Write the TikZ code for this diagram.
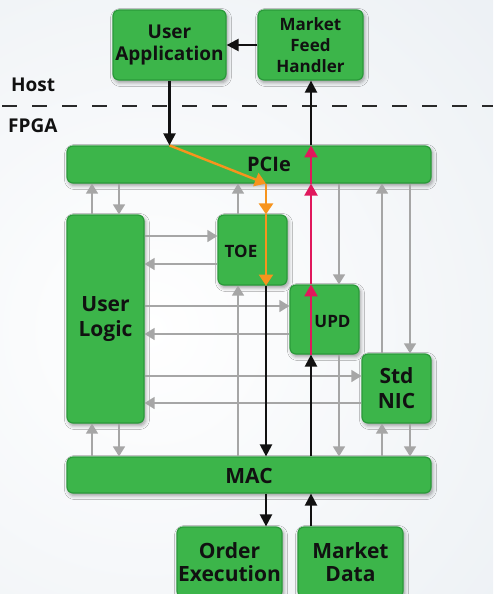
\documentclass[tikz,border=0pt]{standalone}
\usepackage{fontspec}
\setmainfont{Open Sans}
\usetikzlibrary{arrows.meta,shadows.blur}

\definecolor{boxfill}{HTML}{3CB54A}
\definecolor{boxedge}{HTML}{2A9A3A}
\definecolor{ink}{HTML}{111111}
\definecolor{wire}{HTML}{A6A6A6}
\definecolor{txpath}{HTML}{F7941D}
\definecolor{rxpath}{HTML}{E0185C}
\definecolor{bgout}{HTML}{E3E9EF}

\newcommand\boxfont[2]{\fontsize{#1}{#2}\selectfont\bfseries}

\tikzset{
  unit/.style={draw=boxedge, fill=boxfill, line width=1.2pt, rounded corners=6pt,
    inner sep=0pt, align=center, text=ink,
    blur shadow={shadow xshift=1.5pt, shadow yshift=-2.5pt,
      shadow blur radius=4pt, shadow opacity=40}},
  tag/.style={text=ink, inner sep=0pt},
  wirearrow/.style={draw=wire, line width=1.4pt,
    -{Triangle[length=10pt,width=12pt]}, fill=wire},
  mainarrow/.style={draw=ink, line width=2.2pt,
    -{Triangle[length=12pt,width=12pt]}},
  txarrow/.style={draw=txpath, line width=2.4pt,
    -{Triangle[length=11pt,width=14pt]}},
  rxarrow/.style={draw=rxpath, line width=2.2pt,
    -{Triangle[length=12pt,width=13pt]}},
}

\begin{document}
\begin{tikzpicture}[x=1pt, y=-1pt]
  \useasboundingbox (0,0) rectangle (493,594);
  \begin{scope}
    \clip (0,0) rectangle (493,594);
    % soft background
    \shade[inner color=white, outer color=bgout] (150,330) circle (720);

    % host / FPGA boundary
    \draw[ink!90, line width=2pt, dash pattern=on 15pt off 15pt, dash phase=-2pt]
      (0,106) -- (493,106);
    \node[tag, anchor=base west, font=\boxfont{19}{22}] (host) at (11,91) {Host};
    \node[tag, anchor=base west, font=\boxfont{19}{22}] (fpga) at (8,132) {FPGA};

    % blocks
    \node[unit, minimum width=113pt, minimum height=70pt, font=\boxfont{19}{22}]
      (ua) at (169.5,45) {User\\Application};
    \node[unit, minimum width=105pt, minimum height=70pt, font=\boxfont{17}{21}]
      (mfh) at (310.5,45) {Market\\Feed\\Handler};
    \node[unit, minimum width=364pt, minimum height=37pt] (pcie) at (249,164.5) {};
    \node[tag, anchor=base, font=\boxfont{20}{24}] (pcietxt) at (269,171.5) {PCIe};
    \node[unit, minimum width=77pt, minimum height=208pt, font=\boxfont{21}{25}]
      (ul) at (105.5,319) {User\\Logic};
    \node[unit, minimum width=69pt, minimum height=70pt] (toe) at (252.5,250) {};
    \node[tag, anchor=base, font=\boxfont{17}{20}] (toetxt) at (241,257.5) {TOE};
    \node[unit, minimum width=69pt, minimum height=69pt] (upd) at (324.5,319.5) {};
    \node[tag, anchor=base, font=\boxfont{17}{20}] (updtxt) at (332.5,327) {UPD};
    \node[unit, minimum width=69pt, minimum height=69pt, font=\boxfont{21}{25}]
      (nic) at (396.5,388.5) {Std\\NIC};
    \node[unit, minimum width=364pt, minimum height=36pt] (mac) at (249,475) {};
    \node[tag, anchor=base, font=\boxfont{21}{24}] (mactxt) at (249,483) {MAC};
    \node[unit, minimum width=105pt, minimum height=70pt, font=\boxfont{21}{23}]
      (oe) at (229.5,562) {Order\\Execution};
    \node[unit, minimum width=105pt, minimum height=70pt, font=\boxfont{21}{23}]
      (md) at (350.5,562) {Market\\Data};

    % lanes
    \coordinate (x92) at (92,0);
    \coordinate (x119) at (119,0);
    \coordinate (x238) at (238,0);
    \coordinate (x266) at (266,0);
    \coordinate (x311) at (311,0);
    \coordinate (x339) at (339,0);
    \coordinate (x382) at (382,0);
    \coordinate (x410) at (410,0);
    \coordinate (y236) at (0,236);
    \coordinate (y264) at (0,264);
    \coordinate (y306) at (0,306);
    \coordinate (y334) at (0,334);
    \coordinate (y376) at (0,376);
    \coordinate (y403) at (0,403);

    % internal links
    \draw[wirearrow] (ul.north -| x92) -- (pcie.south -| x92);
    \draw[wirearrow] (pcie.south -| x119) -- (ul.north -| x119);
    \draw[wirearrow] (mac.north -| x92) -- (ul.south -| x92);
    \draw[wirearrow] (ul.south -| x119) -- (mac.north -| x119);
    \draw[wirearrow] (toe.north -| x238) -- (pcie.south -| x238);
    \draw[wirearrow] (mac.north -| x238) -- (toe.south -| x238);
    \draw[wirearrow] (pcie.south -| x339) -- (upd.north -| x339);
    \draw[wirearrow] (upd.south -| x339) -- (mac.north -| x339);
    \draw[wirearrow] (nic.north -| x382) -- (pcie.south -| x382);
    \draw[wirearrow] (mac.north -| x382) -- (nic.south -| x382);
    \draw[wirearrow] (pcie.south -| x410) -- (nic.north -| x410);
    \draw[wirearrow] (nic.south -| x410) -- (mac.north -| x410);
    \draw[wirearrow] (ul.east |- y236) -- (toe.west |- y236);
    \draw[wirearrow] (toe.west |- y264) -- (ul.east |- y264);
    \draw[wirearrow] (ul.east |- y306) -- (upd.west |- y306);
    \draw[wirearrow] (upd.west |- y334) -- (ul.east |- y334);
    \draw[wirearrow] (ul.east |- y376) -- (nic.west |- y376);
    \draw[wirearrow] (nic.west |- y403) -- (ul.east |- y403);

    % host side
    \draw[mainarrow] (mfh.west) -- (ua.east);
    \draw[mainarrow] (ua.south) -- (ua.south |- pcie.north);
    \draw[mainarrow] (pcie.north -| x311) -- (mfh.south -| x311);

    % order path
    \draw[txarrow] (ua.south |- pcie.north) -- (pcie.south -| x266);
    \draw[txarrow] (pcie.south -| x266) -- (toe.north -| x266);
    \draw[txarrow] (toe.north -| x266) -- (toe.south -| x266);
    \draw[mainarrow] (toe.south -| x266) -- (mac.north -| x266);
    \draw[mainarrow] (mac.south -| x266) -- (oe.north -| x266);

    % market data path
    \draw[mainarrow] (md.north -| x311) -- (mac.south -| x311);
    \draw[mainarrow] (mac.north -| x311) -- (upd.south -| x311);
    \draw[rxarrow] (upd.south -| x311) -- (upd.north -| x311);
    \draw[rxarrow] (upd.north -| x311) -- (pcie.south -| x311);
    \draw[rxarrow] (pcie.south -| x311) -- (pcie.north -| x311);
  \end{scope}
\end{tikzpicture}
\end{document}
